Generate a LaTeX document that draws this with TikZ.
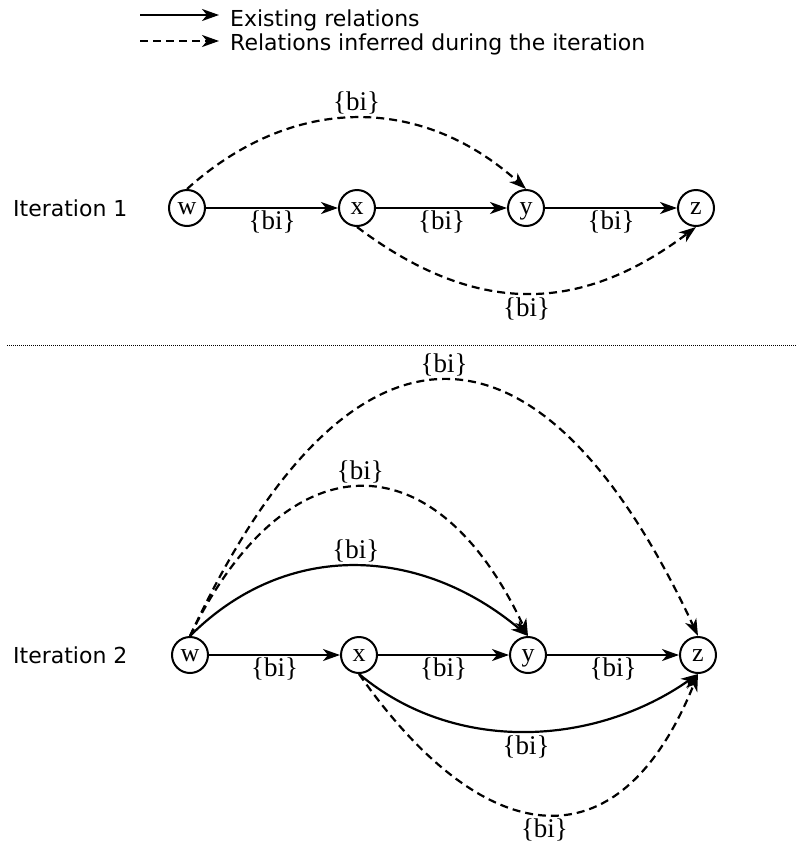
\documentclass[tikz,border=0pt]{standalone}
\usepackage{fontspec}
\setmainfont{Liberation Serif}
\newfontfamily\legendfont{DejaVu Sans}
\usetikzlibrary{arrows.meta}
\begin{document}
\begin{tikzpicture}[x=1pt,y=-1pt,
  vertex/.style={circle,draw,line width=2pt,minimum size=36pt,inner sep=0pt,
    text height=12pt,text depth=0pt,font=\fontsize{26}{26}\selectfont},
  rel/.style={line width=2.2pt,-{Stealth[length=17pt,width=12pt,inset=5pt]}},
  inferred/.style={rel,dash pattern=on 8pt off 5pt},
  lbl/.style={font=\fontsize{27}{27}\selectfont,inner sep=2pt},
  caption/.style={font=\legendfont\fontsize{22}{22}\selectfont,inner sep=0pt}]
\useasboundingbox (0,0) rectangle (797,852);

% legend
\coordinate (s0) at (140,15);
\coordinate (s1) at (219,15);
\coordinate (d0) at (140,41);
\coordinate (d1) at (219,41);
\draw[rel] (s0) -- (s1);
\draw[inferred] (d0) -- (d1);
\node[caption,anchor=base west] (lg1) at (230,26) {Existing relations};
\node[caption,anchor=base west] (lg2) at (230,50) {Relations inferred during the iteration};

% separator between the two iterations
\coordinate (sepL) at (7,345);
\coordinate (sepR) at (797,345);
\draw[line width=0.9pt,dash pattern=on 1pt off 1pt] (sepL) -- (sepR);

% iteration 1
\node[caption,anchor=west] (it1) at (13,208.5) {Iteration 1};
\node[vertex] (w1) at (187,208) {w};
\node[vertex] (x1) at (357,208) {x};
\node[vertex] (y1) at (526,208) {y};
\node[vertex] (z1) at (696,208) {z};
\draw[rel] (w1) -- node[lbl,below] {\{bi\}} (x1);
\draw[rel] (x1) -- node[lbl,below] {\{bi\}} (y1);
\draw[rel] (y1) -- node[lbl,below] {\{bi\}} (z1);
\draw[inferred] (w1.north) to[out=42,in=138,looseness=1.07]
  node[lbl,above=1pt] {\{bi\}} (y1.north);
\draw[inferred] (x1.south) to[out=-37,in=-143,looseness=1.11]
  node[lbl,below=1pt] {\{bi\}} (z1.south);

% iteration 2
\node[caption,anchor=west] (it2) at (13,655.5) {Iteration 2};
\node[vertex] (w2) at (190,655) {w};
\node[vertex] (x2) at (359,655) {x};
\node[vertex] (y2) at (528,655) {y};
\node[vertex] (z2) at (698,655) {z};
\draw[rel] (w2) -- node[lbl,below] {\{bi\}} (x2);
\draw[rel] (x2) -- node[lbl,below] {\{bi\}} (y2);
\draw[rel] (y2) -- node[lbl,below] {\{bi\}} (z2);
\draw[inferred] (w2.north) to[out=65,in=115,looseness=1.9]
  node[lbl,above=1pt] {\{bi\}} (z2.north);
\draw[inferred] (w2.north) to[out=64,in=115,looseness=1.67]
  node[lbl,above=1pt] {\{bi\}} (y2.north);
\draw[rel] (w2.north) to[out=45,in=140,looseness=1.05]
  node[lbl,above=1pt] {\{bi\}} (y2.north);
\draw[rel] (x2.south) to[out=-40,in=-145,looseness=0.95]
  node[lbl,below=1pt] {\{bi\}} (z2.south);
\draw[inferred] (x2.south) to[out=-55,in=-112,looseness=1.62]
  node[lbl,below=1pt] {\{bi\}} (z2.south);
\end{tikzpicture}
\end{document}
